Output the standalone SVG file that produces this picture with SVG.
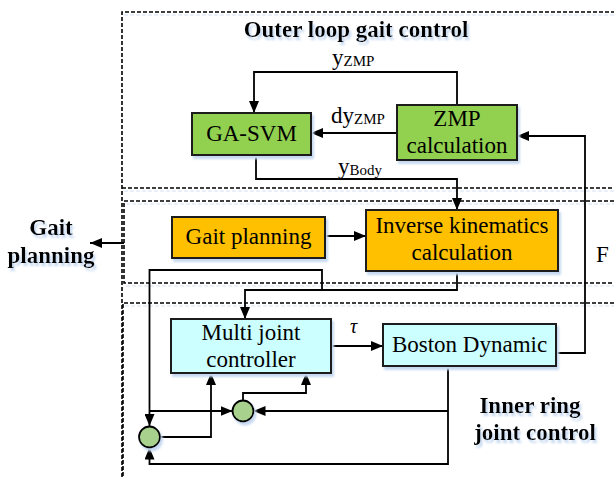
<svg xmlns="http://www.w3.org/2000/svg" width="614" height="477" viewBox="0 0 614 477">
<defs>
<marker id="ah" markerWidth="12" markerHeight="10" refX="12" refY="5" orient="auto" markerUnits="userSpaceOnUse">
<path d="M0,0 L12,5 L0,10 Z" fill="#000"/>
</marker>
<filter id="sh" x="-10%" y="-10%" width="130%" height="140%">
<feDropShadow dx="2" dy="3" stdDeviation="1" flood-color="#c6d9f1" flood-opacity="1"/>
</filter>
</defs>
<style>
.t{font-family:"Liberation Serif","Times New Roman","DejaVu Serif",serif;font-size:23px;fill:#000}
.b{font-weight:bold}
.sub{font-size:15px}
.box{stroke:#1a1a1a;stroke-width:2;filter:url(#sh)}
.g{fill:#92d050}
.o{fill:#ffc000}
.c{fill:#ccffff}
.dash{fill:none;stroke:#000;stroke-width:1.6;stroke-dasharray:4 2}
.dsh{fill:none;stroke:#e4ecf6;stroke-width:1.6;stroke-dasharray:4 2}
.ln{fill:none;stroke:#000;stroke-width:1.8}
.ar{marker-end:url(#ah)}
.circ{fill:#a9d18e;stroke:#000;stroke-width:1.8;filter:url(#sh)}
.ts{filter:url(#sh)}
</style>
<rect width="614" height="477" fill="#fff"/>
<g id="regions">
<path class="dsh" d="M124,15 H620 M124,191 H620 M126,204 H620 M126,286 H620 M125,306 H620"/>
<path class="dash" d="M122,477 V12 H620"/>
<path class="dash" d="M122,188 H620"/>
<path class="dash" d="M620,201 H124 V283 H620"/>
<path class="dash" d="M620,303 H123 V477"/>
</g>
<g id="labels">
<text class="t b ts" x="356" y="37" text-anchor="middle">Outer loop gait control</text>
<text class="t b ts" x="51" y="235" text-anchor="middle">Gait</text>
<text class="t b ts" x="51" y="263" text-anchor="middle">planning</text>
<text class="t b ts" x="530" y="413" text-anchor="middle">Inner ring</text>
<text class="t b ts" x="535" y="440" text-anchor="middle">joint control</text>
<text class="t" x="332" y="65">y<tspan class="sub" dy="1">ZMP</tspan></text>
<text class="t" x="331" y="123">dy<tspan class="sub" dy="1">ZMP</tspan></text>
<text class="t" x="338" y="174">y<tspan class="sub" dy="1">Body</tspan></text>
<text class="t" x="596" y="262">F</text>
<text class="t" x="350" y="333" style="font-style:italic;font-size:20px">τ</text>
</g>
<g id="connectors">
<path class="ln ar" d="M457,105 V72 H254 V113"/>
<path class="ln ar" d="M397,133 H311"/>
<path class="ln ar" d="M256,155 V179 H457 V210"/>
<path class="ln ar" d="M556,353 H585 V136 H517"/>
<path class="ln ar" d="M325,236 H366"/>
<path class="ln ar" d="M124,243 H90"/>
<path class="ln ar" d="M457,271 V290 H245 V319"/>
<path class="ln ar" d="M322,290 V270 H149.5 V426"/>
<path class="ln ar" d="M149.5,411 H232.5"/>
<path class="ln ar" d="M331,346 H383"/>
<path class="ln ar" d="M448,366 V464 H149.5 V447.5"/>
<path class="ln ar" d="M448,411 H253.5"/>
<path class="ln ar" d="M160,437 H211 V373"/>
<path class="ln ar" d="M243,400.5 V393 H306 V373"/>
</g>
<g id="ga-svm">
<rect class="box g" x="192" y="113" width="119" height="42"/>
<text class="t" x="251.5" y="141" text-anchor="middle">GA-SVM</text>
</g>
<g id="zmp">
<rect class="box g" x="397" y="105" width="120" height="55"/>
<text class="t" x="457" y="126" text-anchor="middle">ZMP</text>
<text class="t" x="457" y="153" text-anchor="middle">calculation</text>
</g>
<g id="gait-planning">
<rect class="box o" x="172" y="217" width="153" height="41"/>
<text class="t" x="248.5" y="244" text-anchor="middle">Gait planning</text>
</g>
<g id="inverse-kinematics">
<rect class="box o" x="366" y="210" width="192" height="61"/>
<text class="t" x="462" y="233" text-anchor="middle">Inverse kinematics</text>
<text class="t" x="462" y="260" text-anchor="middle">calculation</text>
</g>
<g id="multi-joint">
<rect class="box c" x="171" y="319" width="160" height="54"/>
<text class="t" x="251" y="340" text-anchor="middle">Multi joint</text>
<text class="t" x="251" y="367" text-anchor="middle">controller</text>
</g>
<g id="boston">
<rect class="box c" x="383" y="324" width="173" height="42"/>
<text class="t" x="469.5" y="352" text-anchor="middle">Boston Dynamic</text>
</g>
<g id="sum1">
<circle class="circ" cx="149.5" cy="437" r="10.5"/>
</g>
<g id="sum2">
<circle class="circ" cx="243" cy="411" r="10.5"/>
</g>
</svg>
